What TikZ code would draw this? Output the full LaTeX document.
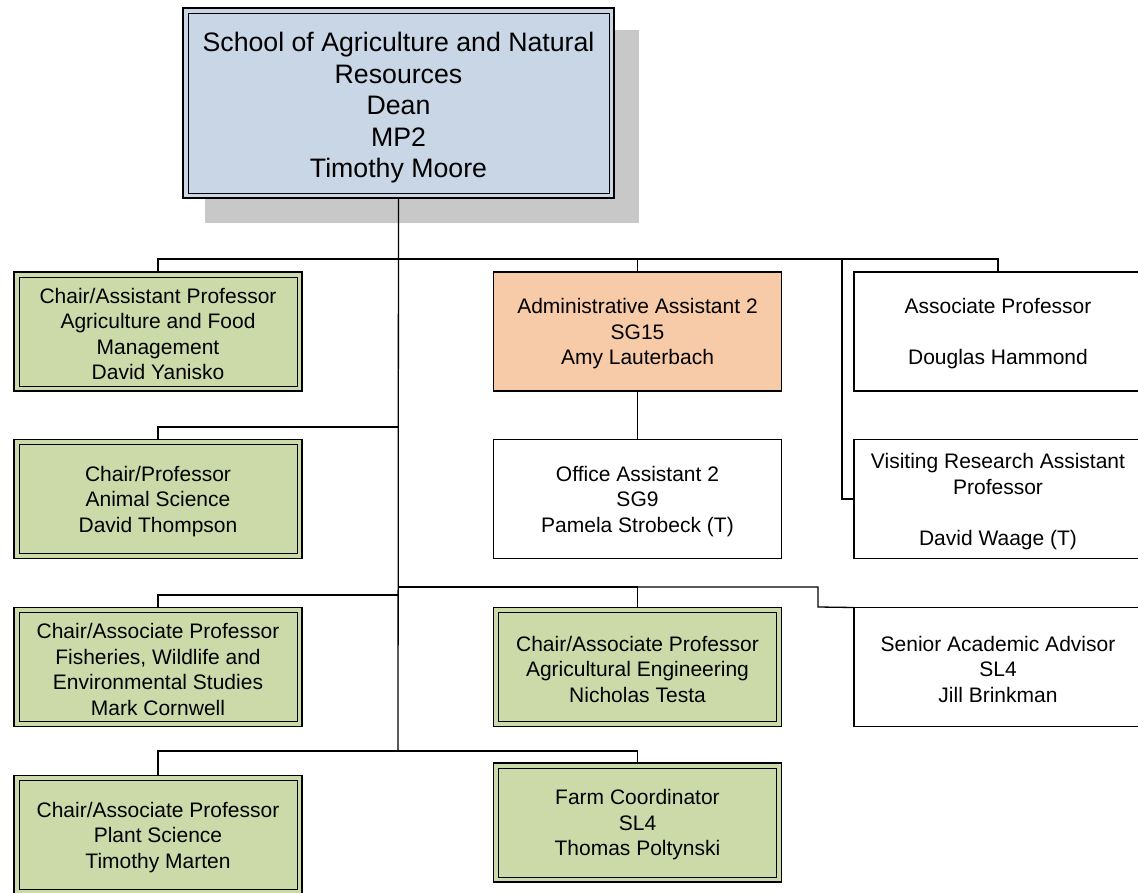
\documentclass[tikz,border=0pt]{standalone}
\usepackage{fontspec}
\setmainfont{Liberation Sans}
\definecolor{boxgreen}{RGB}{204,218,170}
\definecolor{boxorange}{RGB}{248,203,168}
\definecolor{boxblue}{RGB}{200,214,230}
\definecolor{shadowgray}{RGB}{200,200,200}
\newcommand{\lowS}{\rule{0pt}{20pt}}
\newcommand{\lowT}{\rule{0pt}{29pt}}
\begin{document}
\begin{tikzpicture}[x=1pt,y=-1pt,
 box/.style={draw=black, line width=1.5pt, minimum width=288pt, minimum height=119pt, inner sep=0pt, outer sep=0pt, align=center, font=\fontsize{21}{25.5}\selectfont, text=black},
 greenbox/.style={box, fill=boxgreen},
 orangebox/.style={box, fill=boxorange, line width=1.3pt},
 whitebox/.style={box, fill=white, line width=1.3pt},
 topbox/.style={box, fill=boxblue, minimum width=431pt, minimum height=190pt, font=\fontsize{26.7}{31.5}\selectfont},
 innerline/.style={draw=black, line width=0.9pt},
 conn/.style={draw=black, line width=1.3pt}]
\useasboundingbox (0,0) rectangle (1138,893);
\clip (0,0) rectangle (1138,893);
% shadow
\fill[shadowgray] (205,30) rectangle (639,223);
% nodes
\node[topbox] (top) at (398.5,103) {\lowT School of Agriculture and Natural\\Resources\\Dean\\MP2\\Timothy Moore};
\node[greenbox] (g1) at (158,331.5) {\lowS Chair/Assistant Professor\\Agriculture and Food\\Management\\David Yanisko};
\node[greenbox] (g2) at (158,499) {\lowS Chair/Professor\\Animal Science\\David Thompson};
\node[greenbox] (g3) at (158,667) {\lowS Chair/Associate Professor\\Fisheries, Wildlife and\\Environmental Studies\\Mark Cornwell};
\node[greenbox] (g4) at (158,835) {\lowS Chair/Associate Professor\\Plant Science\\Timothy Marten};
\node[orangebox] (admin) at (637.5,331.5) {\lowS Administrative Assistant 2\\SG15\\Amy Lauterbach};
\node[whitebox] (office) at (637.5,499) {\lowS Office Assistant 2\\SG9\\Pamela Strobeck (T)};
\node[greenbox] (agreng) at (637.5,667) {\lowS Chair/Associate Professor\\Agricultural Engineering\\Nicholas Testa};
\node[greenbox] (farm) at (637.5,822.5) {\lowS Farm Coordinator\\SL4\\Thomas Poltynski};
\node[whitebox] (assoc) at (998,331.5) {\lowS Associate Professor\\\strut\\Douglas Hammond};
\node[whitebox] (visit) at (998,499) {\lowS Visiting Research Assistant\\Professor\\\strut\\David Waage (T)};
\node[whitebox] (senior) at (998,667) {\lowS Senior Academic Advisor\\SL4\\Jill Brinkman};
% inner frames
\foreach \n in {top,g1,g2,g3,g4,agreng,farm}
  \draw[innerline] ([xshift=5pt,yshift=-5pt]\n.north west) rectangle ([xshift=-5pt,yshift=5pt]\n.south east);
% junctions
\coordinate (t1) at (398,259);
\coordinate (t2) at (398,427);
\coordinate (t3) at (398,587);
\coordinate (t3b) at (398,595);
\coordinate (t4) at (398,751);
\coordinate (v1) at (842,259);
\coordinate (s1) at (818,607);
% connectors
\draw[conn] (top.south) -- (t4);
\draw[conn] (g1.north) |- (t1);
\draw[conn] (t1) -| (assoc.north);
\draw[conn] (admin.north) -- (admin.north |- t1);
\draw[conn] (visit.west) -| (v1);
\draw[conn] (admin.south) -- (office.north);
\draw[conn] (g2.north) |- (t2);
\draw[conn] (g3.north) |- (t3b);
\draw[conn] (t3) -| (agreng.north);
\draw[conn] (t3) -| (s1) -- (senior.north west);
\draw[conn] (g4.north) |- (t4);
\draw[conn] (t4) -| (farm.north);
\end{tikzpicture}
\end{document}
